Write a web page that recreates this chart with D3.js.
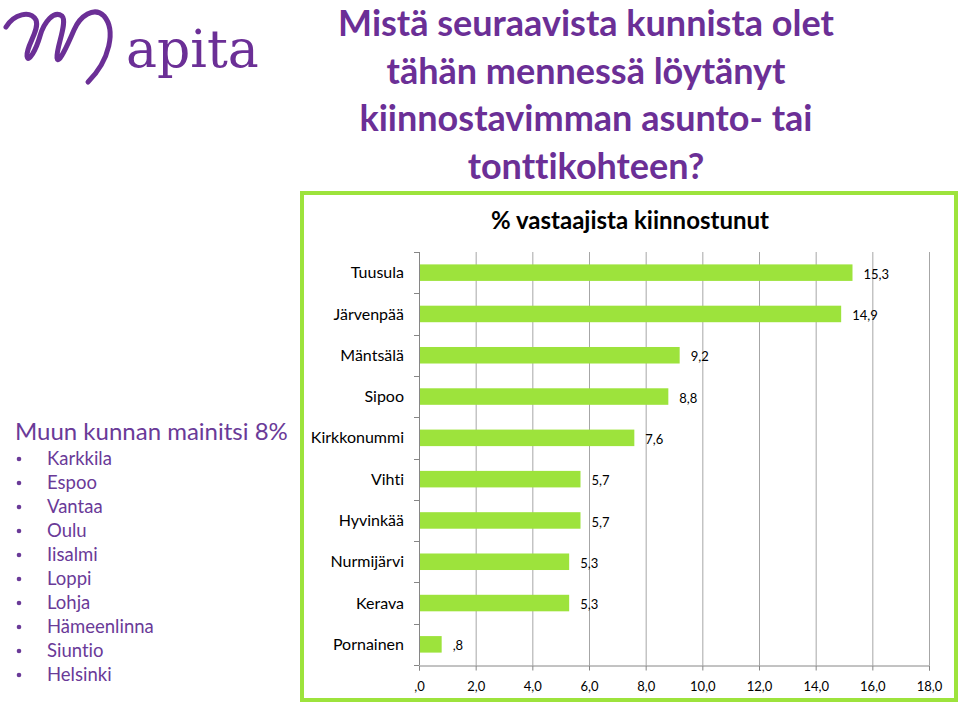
<!DOCTYPE html>
<html>
<head>
<meta charset="utf-8">
<script src="https://cdn.jsdelivr.net/npm/d3@7"></script>
<style>
  body { margin: 0; background: white; }
  svg { display: block; }
  text { font-variant-ligatures: none; }
</style>
</head>
<body>
<svg id="chart" width="960" height="708"></svg>
<script>
var municipalities = ["Tuusula", "Järvenpää", "Mäntsälä", "Sipoo", "Kirkkonummi", "Vihti", "Hyvinkää", "Nurmijärvi", "Kerava", "Pornainen"]
var shares = [15.3, 14.9, 9.2, 8.8, 7.6, 5.7, 5.7, 5.3, 5.3, 0.8]
var tickValues = [0, 2, 4, 6, 8, 10, 12, 14, 16, 18]
var otherPlaces = ["Karkkila", "Espoo", "Vantaa", "Oulu", "Iisalmi", "Loppi", "Lohja", "Hämeenlinna", "Siuntio", "Helsinki"]
var titleLines = ["Mistä seuraavista kunnista olet", "tähän mennessä löytänyt", "kiinnostavimman asunto- tai", "tonttikohteen?"]

var purple = "#6b2f96"
var green = "#9de33c"
var font = "Lato, 'Open Sans', sans-serif"

var svg = d3.select("#chart")

// finnish style numbers: 0 -> ",0"
function fiNum(v) {
    var s = d3.format(".1f")(v).replace(".", ",")
    if (s.indexOf("0,") == 0) { s = s.slice(1) }
    return s
}

// logo
var logo = svg.append("g").attr("class", "logo")
logo.append("path")
    .attr("d", "M6,27 C14,14 30,10 36,20 C40,30 26,46 27,56 C28,64 36,50 40,36 C44,22 54,10 62,16 C68,22 56,48 57,58 C58,66 68,44 74,30 C80,16 94,6 104,16 C116,30 110,60 88,82")
    .style("fill", "none")
    .style("stroke", purple)
    .style("stroke-width", 5)
    .style("stroke-linecap", "round")
logo.append("text")
    .attr("x", 126).attr("y", 67)
    .text("apita")
    .style("font-family", "'DejaVu Serif', 'Liberation Serif', serif")
    .style("font-size", "52px")
    .style("fill", purple)

// main title
svg.append("g").selectAll("text")
    .data(titleLines)
    .enter().append("text")
    .attr("x", 586)
    .attr("y", function(d, i) { return 36 + i * 47.5 })
    .attr("text-anchor", "middle")
    .text(function(d) { return d })
    .style("font-family", font)
    .style("font-weight", "bold")
    .style("font-size", "36px")
    .style("fill", purple)

// left list
svg.append("text")
    .attr("x", 15).attr("y", 440)
    .text("Muun kunnan mainitsi 8%")
    .style("font-family", font)
    .style("font-size", "24px")
    .style("fill", "#6a3a98")

var items = svg.append("g").selectAll("g")
    .data(otherPlaces)
    .enter().append("g")
    .attr("transform", function(d, i) { return "translate(0," + (465 + i * 24) + ")" })
items.append("circle")
    .attr("cx", 19).attr("cy", -6).attr("r", 2.3)
    .style("fill", "#6a3a98")
items.append("text")
    .attr("x", 47).attr("y", 0)
    .text(function(d) { return d })
    .style("font-family", font)
    .style("font-size", "18.5px")
    .style("fill", "#6a3a98")

// chart frame
svg.append("rect")
    .attr("x", 302).attr("y", 193)
    .attr("width", 654).attr("height", 507)
    .style("fill", "white")
    .style("stroke", green)
    .style("stroke-width", 4)

svg.append("text")
    .attr("x", 630).attr("y", 229)
    .attr("text-anchor", "middle")
    .text("% vastaajista kiinnostunut")
    .style("font-family", font)
    .style("font-weight", "bold")
    .style("font-size", "24px")
    .style("fill", "black")

var x = d3.scaleLinear().domain([0, 18]).range([419, 929])
var y = d3.scaleBand().domain(municipalities).range([252, 665]).paddingInner(0.6).paddingOuter(0.3)

var grid = svg.append("g")
grid.selectAll("line")
    .data(tickValues.slice(1))
    .enter().append("line")
    .attr("x1", function(d) { return x(d) + 0.5 })
    .attr("x2", function(d) { return x(d) + 0.5 })
    .attr("y1", 252).attr("y2", 665)
    .style("stroke", "#a6a6a6")
    .style("stroke-width", 1)

var xAxis = svg.append("g")
    .attr("transform", "translate(0,665.5)")
    .call(d3.axisBottom(x).tickValues(tickValues).tickFormat(fiNum).tickSize(5).tickPadding(11))
xAxis.select(".domain").style("stroke", "#868686")
xAxis.selectAll(".tick line").style("stroke", "#868686")
xAxis.selectAll("text")
    .style("font-family", font)
    .style("font-size", "13px")
    .style("fill", "black")

// y axis: line with ticks between categories
var yAxis = svg.append("g")
yAxis.append("line")
    .attr("x1", 419.5).attr("x2", 419.5)
    .attr("y1", 252).attr("y2", 665)
    .style("stroke", "#868686")
yAxis.selectAll("line.tk")
    .data(d3.range(municipalities.length + 1))
    .enter().append("line")
    .attr("class", "tk")
    .attr("x1", 414).attr("x2", 419)
    .attr("y1", function(i) { return Math.round(252 + i * (413 / municipalities.length)) + 0.5 })
    .attr("y2", function(i) { return Math.round(252 + i * (413 / municipalities.length)) + 0.5 })
    .style("stroke", "#868686")

var rows = svg.append("g").selectAll("g")
    .data(municipalities)
    .enter().append("g")

rows.append("rect")
    .attr("x", x(0) + 1)
    .attr("y", function(d) { return y(d) })
    .attr("width", function(d, i) { return x(shares[i]) - x(0) - 1 })
    .attr("height", y.bandwidth())
    .style("fill", green)

rows.append("text")
    .attr("x", 404)
    .attr("y", function(d) { return y(d) + y.bandwidth() / 2 })
    .attr("dy", ".35em")
    .attr("text-anchor", "end")
    .text(function(d) { return d })
    .style("font-family", font)
    .style("font-size", "16px")
    .style("fill", "black")

rows.append("text")
    .attr("x", function(d, i) { return x(shares[i]) + 11 })
    .attr("y", function(d) { return y(d) + y.bandwidth() / 2 + 1.5 })
    .attr("dy", ".35em")
    .text(function(d, i) { return fiNum(shares[i]) })
    .style("font-family", font)
    .style("font-size", "13px")
    .style("fill", "black")
</script>
</body>
</html>
